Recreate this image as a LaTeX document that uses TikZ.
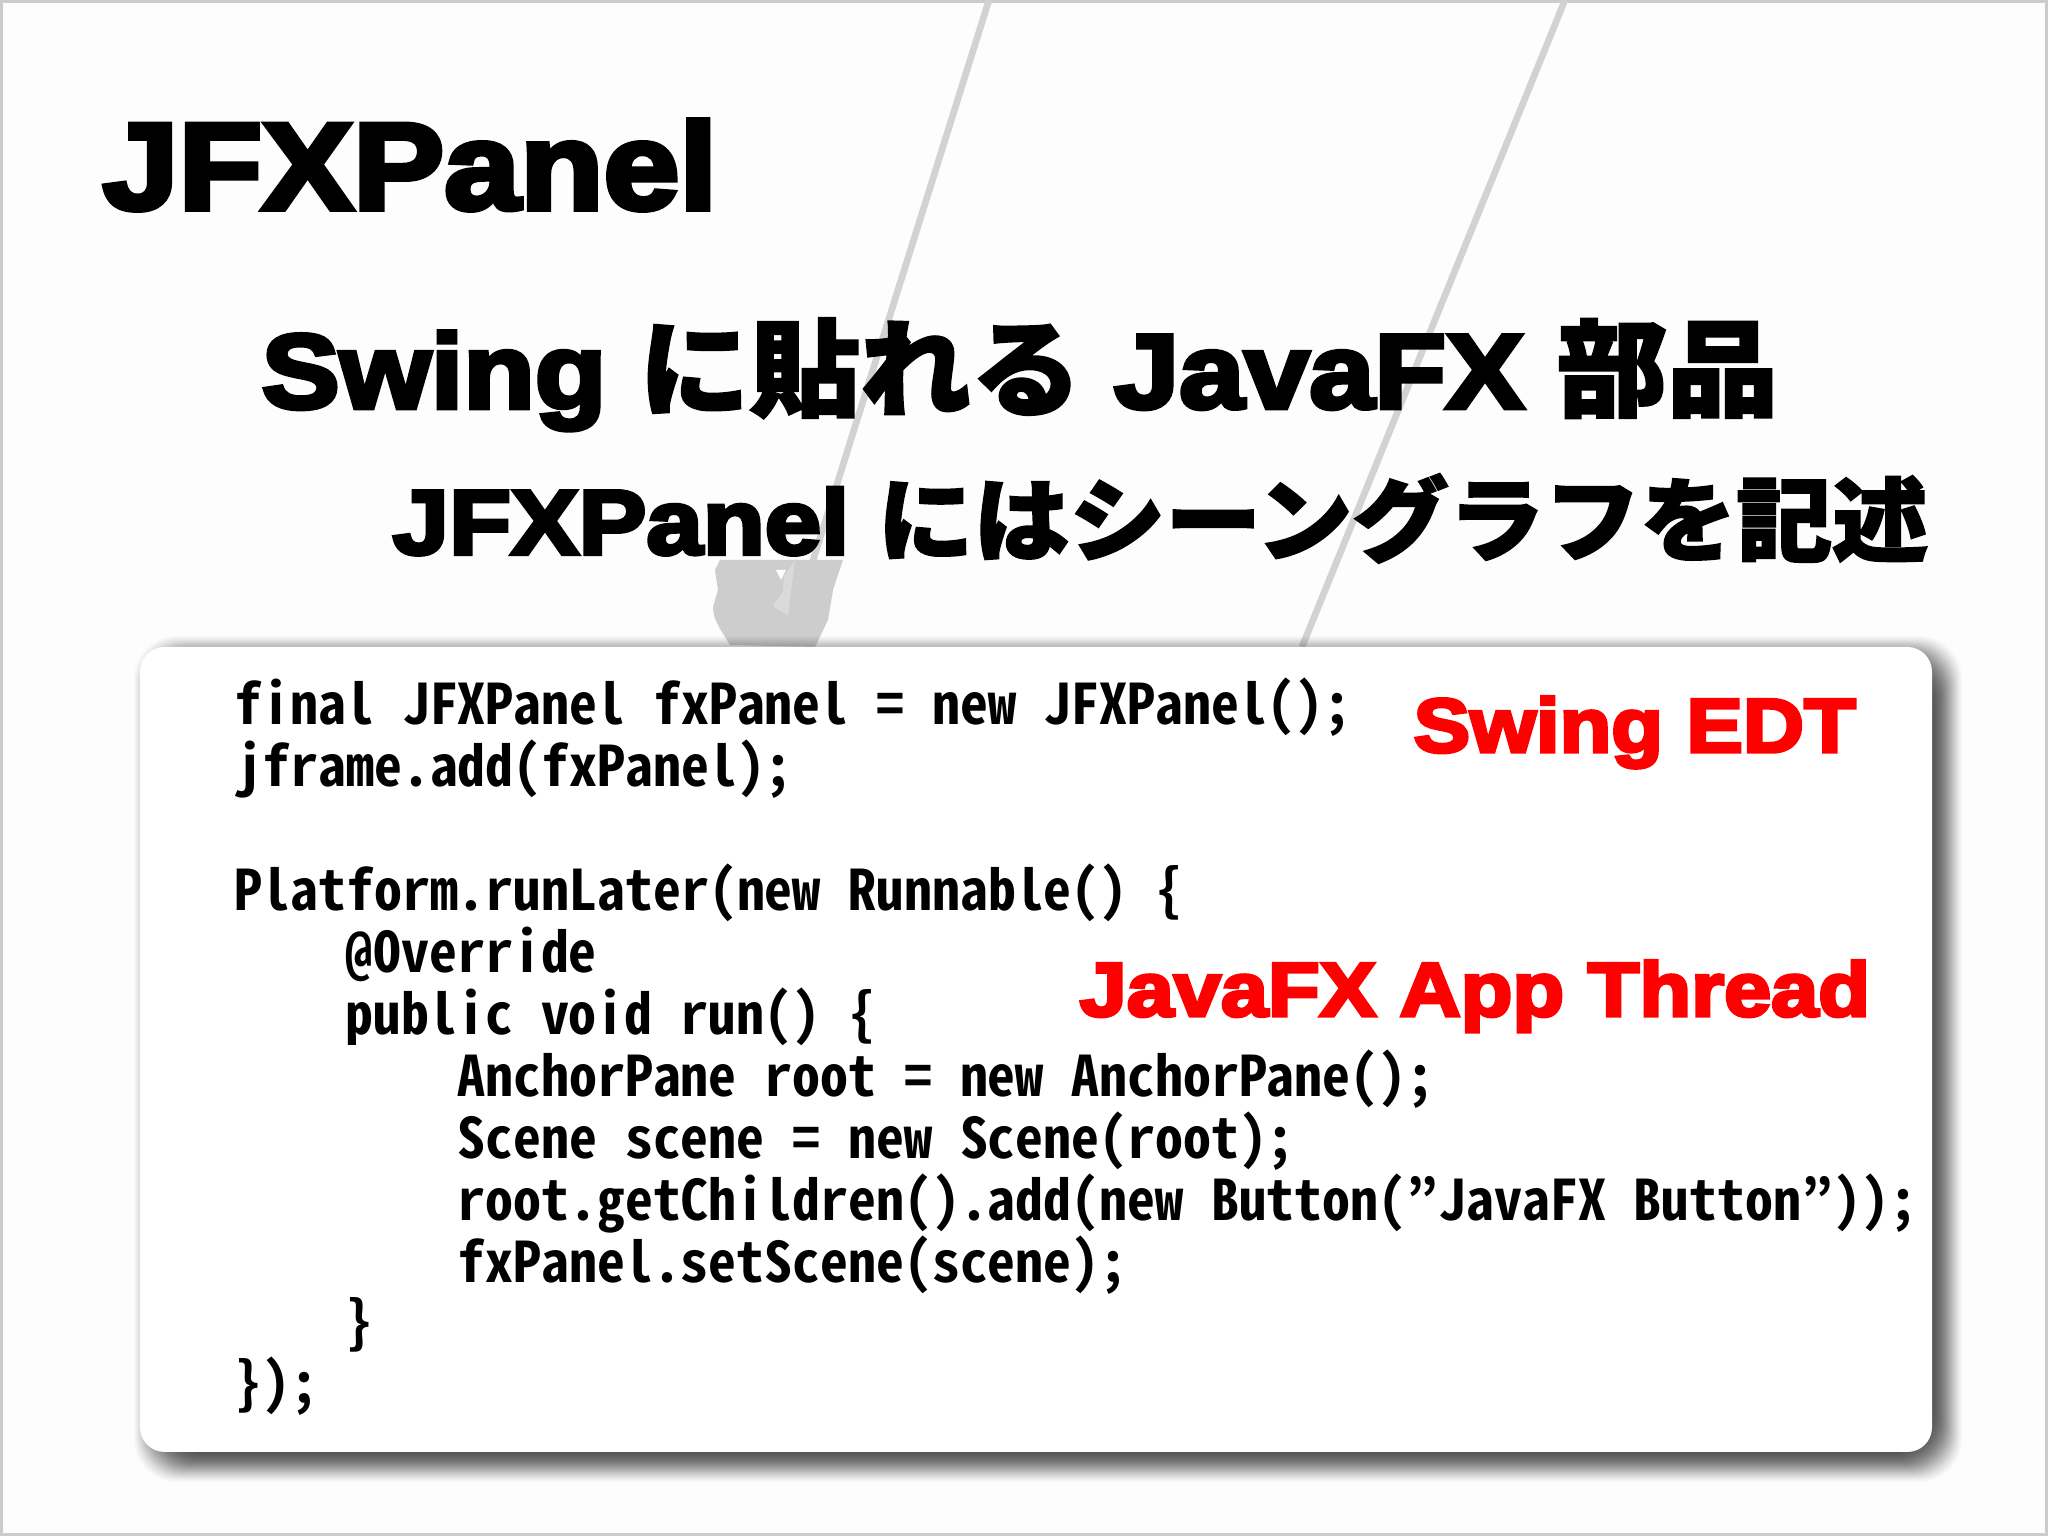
\documentclass[tikz,border=0pt]{standalone}
\usepackage{fontspec}
\setmainfont{Liberation Sans}[BoldFont=Liberation Sans Bold,BoldFeatures={FakeBold=4.5,FakeStretch=1.11}]
\newfontfamily\jpfont{Noto Sans CJK JP Bold}[FakeBold=2.2,FakeStretch=1.05]
\newfontfamily\codefont{Noto Sans Mono CJK JP Bold}
\definecolor{bgwhite}{HTML}{FDFDFD}
\definecolor{edgegray}{HTML}{CCCCCC}
\definecolor{stringgray}{HTML}{D2D2D2}
\definecolor{blobgray}{HTML}{CDCDCD}
\definecolor{streakgray}{HTML}{DADADA}
\definecolor{shadowgray}{HTML}{4A4A4A}
\definecolor{labelred}{HTML}{FF0000}
\tikzset{
    headtext/.style={anchor=base west,inner sep=0pt,font=\bfseries},
    codetext/.style={anchor=base west,inner sep=0pt,font=\fontsize{15.88}{18}\codefont},
    threadtext/.style={anchor=base west,inner sep=0pt,text=labelred,font=\fontsize{21.7}{24}\bfseries}
}
\begin{document}
\begin{tikzpicture}[>=stealth,x=1cm,y=1cm]
    \useasboundingbox (0,0) rectangle (20.48,15.36);
    \fill[bgwhite] (0,0) rectangle (20.48,15.36);
    \draw[edgegray,line width=1.5pt] (0,0) rectangle (20.48,15.36);
    % strings behind the text
    \draw[stringgray,line width=1.9pt] (9.89,15.36) -- (8.05,9.5);
    \draw[stringgray,line width=1.9pt] (15.65,15.36) -- (13.02,8.89);
    \fill[blobgray] (7.20,9.76) -- (8.43,9.76) -- (8.33,9.46) -- (8.28,9.16) -- (8.15,8.89)
        -- (7.30,8.91) .. controls (7.22,9.05) and (7.13,9.15) .. (7.13,9.29)
        -- (7.18,9.46) -- (7.15,9.66) -- cycle;
    \fill[streakgray] (7.95,9.76) -- (7.88,9.2) -- (7.73,9.30) -- (7.83,9.45) -- (7.84,9.6) -- cycle;
    \fill[bgwhite] (7.76,9.66) -- (7.86,9.66) -- (7.81,9.56) -- cycle;
    % titles
    \node[headtext,font=\fontsize{35}{40}\bfseries] (title) at (1.02,13.27) {JFXPanel};
    \node[headtext,font=\fontsize{30}{34}\bfseries] (subone) at (2.61,11.28)
        {Swing {\jpfont に貼れる} JavaFX {\jpfont 部品}};
    \node[headtext,font=\fontsize{26}{30}\bfseries] (subtwo) at (3.92,9.82)
        {JFXPanel {\jpfont にはシーングラフを記述}};
    % code panel
    \foreach \i [evaluate=\i as \shadeop using 0.015+\i*0.004] in {1,...,30}
        \fill[shadowgray,opacity=\shadeop,rounded corners=12pt] ({1.33+\i*0.01},{0.53+\i*0.01})
            rectangle ({19.63-\i*0.01},{9.01-\i*0.01});
    \fill[white,rounded corners=7pt] (1.40,0.84) rectangle (19.32,8.89);
    \foreach \n/\x/\y/\t in {
        lineA/2.34/8.11/{final JFXPanel fxPanel = new JFXPanel();},
        lineB/2.34/7.49/{jframe.add(fxPanel);},
        lineC/2.34/6.25/{Platform.runLater(new Runnable() \{},
        lineD/3.45/5.63/{@Override},
        lineE/3.45/5.01/{public void run() \{},
        lineF/4.57/4.39/{AnchorPane root = new AnchorPane();},
        lineG/4.57/3.77/{Scene scene = new Scene(root);},
        lineH/4.57/3.15/{root.getChildren().add(new Button(”JavaFX Button”));},
        lineI/4.57/2.53/{fxPanel.setScene(scene);},
        lineJ/3.45/1.93/{\}},
        lineK/2.34/1.32/{\});}}
        \node[codetext] (\n) at (\x,\y) {\t};
    \node[threadtext] (swingedt) at (14.13,7.84) {Swing EDT};
    \node[threadtext] (fxthread) at (10.79,5.20) {JavaFX App Thread};
\end{tikzpicture}
\end{document}
